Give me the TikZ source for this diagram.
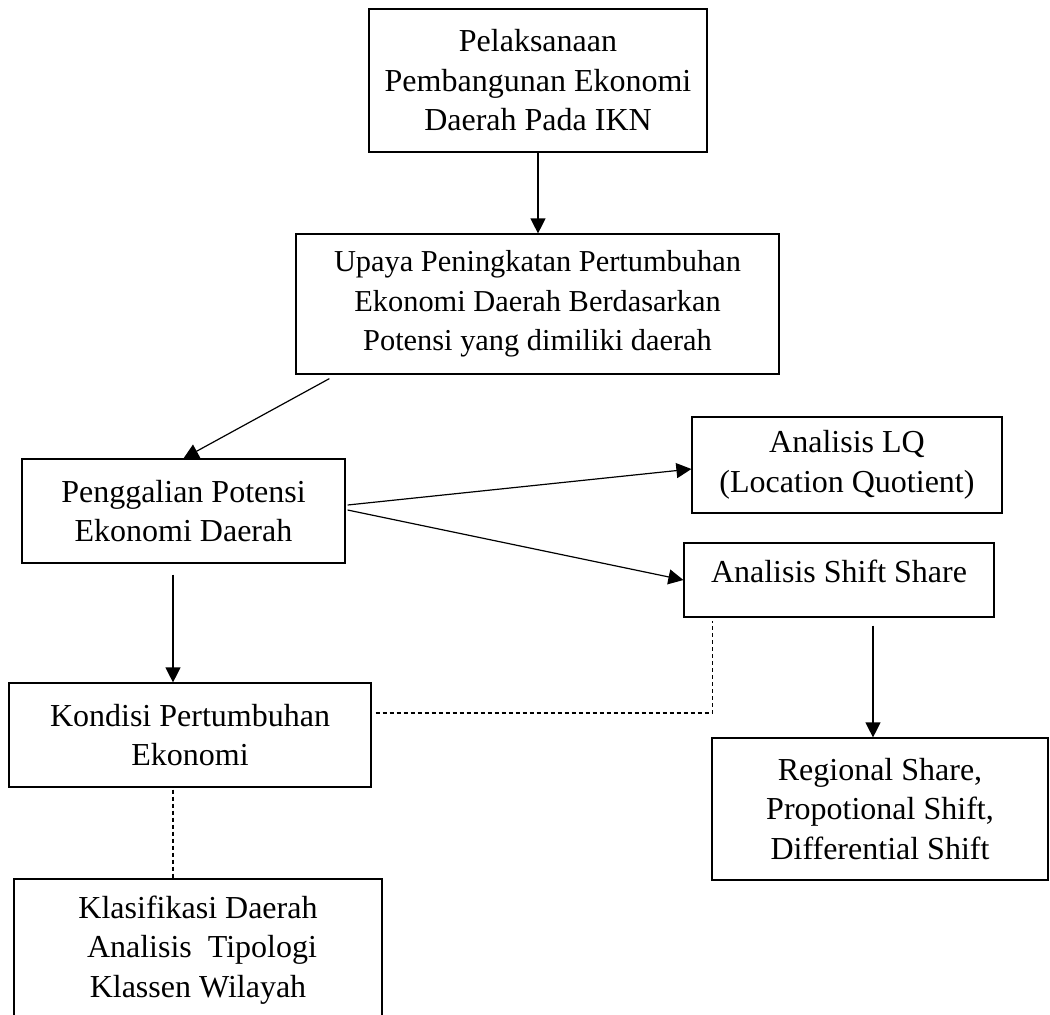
\documentclass[tikz,border=0pt]{standalone}
\usepackage{fontspec}
\setmainfont{Liberation Serif}
\usepackage{tikz}
\usetikzlibrary{arrows.meta, positioning, calc}

\begin{document}
\begin{tikzpicture}[x=0.5pt, y=-0.5pt,
		every node/.style={font=\fontsize{16}{19.75}\selectfont},
		box/.style={draw, line width=0.6pt, inner sep=0pt, align=center},
		link/.style={line width=0.6pt, -{Triangle[length=7.5pt, width=7.5pt]}},
		dashlink/.style={line width=0.6pt, dash pattern=on 2pt off 1.5pt}]
	
	% Page frame
	\useasboundingbox (0,0) rectangle (1050,1014);
	\clip (0,0) rectangle (1050,1014);
	
	% Top boxes
	\node[box, minimum width=169pt, minimum height=71.5pt] (pelaksanaan) at (538,80.5)
		{Pelaksanaan\\Pembangunan Ekonomi\\Daerah Pada IKN};
	\node[box, minimum width=241.5pt, minimum height=70pt,
		font=\fontsize{15.2}{19.75}\selectfont] (upaya) at (537.5,304)
		{Upaya Peningkatan Pertumbuhan\\Ekonomi Daerah Berdasarkan\\Potensi yang dimiliki daerah};
	
	% Left column
	\node[box, minimum width=161.5pt, minimum height=52pt] (penggalian) at (183.5,511)
		{Penggalian Potensi\\Ekonomi Daerah};
	\node[box, minimum width=181pt, minimum height=52pt] (kondisi) at (190,735)
		{Kondisi Pertumbuhan\\Ekonomi};
	\node[box, minimum width=184pt, minimum height=71pt] (klassen) at (198,950)
		{Klasifikasi Daerah\\\ Analisis\ \ Tipologi\\Klassen Wilayah\ };
	
	% Right column
	\node[box, minimum width=155pt, minimum height=48pt] (lq) at (847,465)
		{Analisis LQ\\(Location Quotient)};
	\node[box, minimum width=155pt, minimum height=37pt, text depth=9pt] (shift) at (839,580)
		{Analisis Shift Share};
	\node[box, minimum width=168pt, minimum height=71pt] (regional) at (880,809)
		{Regional Share,\\Propotional Shift,\\Differential Shift};
	
	% Arrows
	\draw[link] (pelaksanaan.south) -- (pelaksanaan.south |- upaya.north);
	\draw[link] ($(upaya.south west)+(34,4)$) -- (penggalian.north);
	\draw[link] ($(penggalian.east)+(2,-6)$) -- ($(lq.west)+(0,4)$);
	\draw[link] ($(penggalian.east)+(2,-1)$) -- (shift.west);
	\draw[link] ($(penggalian.south)+(-10.5,11)$) coordinate (down) -- (down |- kondisi.north);
	\draw[link] ($(shift.south)+(34,8)$) coordinate (split) -- (split |- regional.north);
	
	% Dashed relations
	\draw[dashlink] ($(kondisi.east)+(4,-22)$) -| ($(shift.south west)+(29,3)$);
	\draw[dashlink] ($(kondisi.south)+(-17,2)$) coordinate (klas) -- (klas |- klassen.north);
	
\end{tikzpicture}
\end{document}
